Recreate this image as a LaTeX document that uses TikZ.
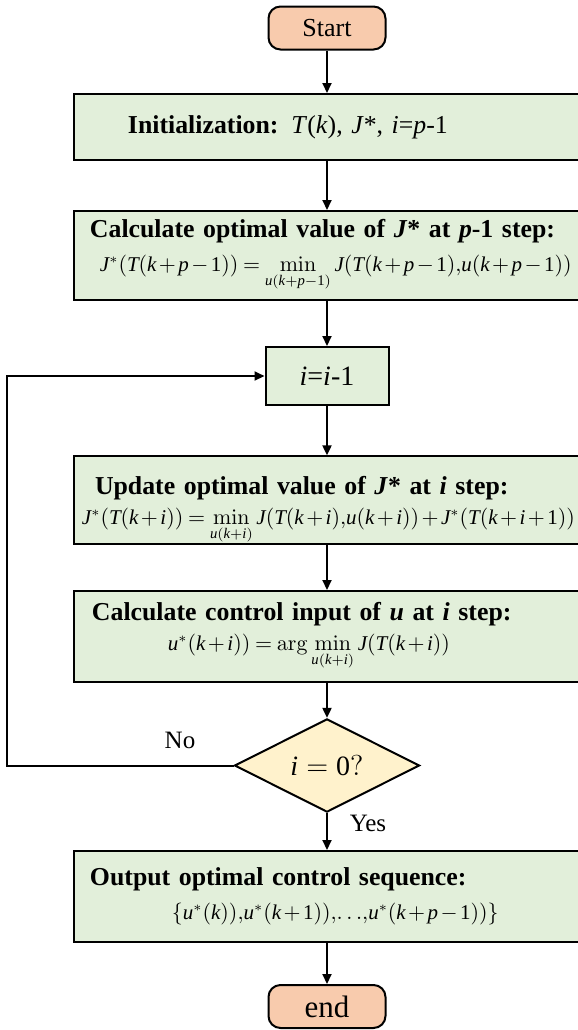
\documentclass[tikz,border=0pt]{standalone}
\usepackage{mathspec}
\setmainfont{Liberation Serif}
\setmathsfont(Digits,Latin){Liberation Serif}
\usetikzlibrary{shapes.geometric,arrows.meta}

\definecolor{termfill}{RGB}{248,203,173}
\definecolor{boxfill}{RGB}{226,239,218}
\definecolor{checkfill}{RGB}{255,242,204}

\newcommand{\headfont}{\fontsize{12.9}{15}\selectfont}
\newcommand{\eqfont}{\fontsize{10.5}{15}\selectfont\medmuskip=2mu\thickmuskip=4mu}

\tikzset{
  terminal/.style={draw, line width=1pt, rounded corners=6pt, fill=termfill,
    minimum width=58.5pt, minimum height=21.5pt, inner sep=0pt},
  stepbox/.style={draw, line width=1pt, fill=boxfill, text width=265pt,
    inner xsep=4pt, inner ysep=0pt, align=left, minimum height=#1},
  flow/.style={line width=1pt, -{Triangle[length=5pt,width=4.5pt]}},
}

\begin{document}
\begin{tikzpicture}[x=0.5pt, y=-0.5pt]
  \useasboundingbox (0,0) rectangle (578,1030);

  \node[terminal, font=\fontsize{13}{15}\selectfont] (start) at (327,28) {Start};

  % boxes run past the right edge, as in the figure
  \node[stepbox=33pt, font=\headfont] (init) at (347,127)
    {\hspace*{23pt}\textbf{Initialization:} \textit{T}(\textit{k}), \textit{J}*, \textit{i}=\textit{p}-1};

  \node[stepbox=44.5pt, font=\headfont] (calc) at (347,255.5)
    {\hspace*{4pt}\textbf{Calculate optimal value of \textit{J}* at \textit{p}-1 step:}\\[2pt]
     \hspace*{9pt}{\eqfont $J^*(T(k+p-1))=\min\limits_{u(k+p-1)}J(T(k+p-1){,}u(k+p-1))$}};

  \node[draw, line width=1pt, fill=boxfill, minimum width=61.5pt, minimum height=29pt,
    font=\fontsize{14}{16}\selectfont] (dec) at (327,376)
    {\textit{i}=\textit{i}-1};

  \node[stepbox=43pt, font=\headfont] (update) at (347,500)
    {\rule{0pt}{19pt}\hspace*{6.5pt}\textbf{Update optimal value of \textit{J}* at \textit{i} step:}\\
     {\eqfont $J^*(T(k+i))=\min\limits_{u(k+i)}J(T(k+i){,}u(k+i))+J^*(T(k+i+1))$}};

  \node[stepbox=45.5pt, font=\headfont] (control) at (347,636.5)
    {\hspace*{5pt}\textbf{Calculate control input of \textit{u} at \textit{i} step:}\\
     \hspace*{43pt}{\eqfont $u^*(k+i))=\arg\min\limits_{u(k+i)}J(T(k+i))$}};

  \node[diamond, draw, line width=1pt, fill=checkfill, minimum width=92.5pt,
    minimum height=34.5pt, inner sep=0pt, font=\fontsize{14}{16}\selectfont]
    (check) at (327,765.5) {$i=0?$};

  \node[stepbox=45.5pt, font=\headfont] (output) at (347,896.5)
    {\hspace*{4pt}\textbf{Output optimal control sequence:}\\[2pt]
     \hspace*{45pt}{\eqfont $\left\{u^*(k)){,}u^*(k+1)){,}{\ldots}{,}u^*(k+p-1))\right\}$}};

  \node[terminal, font=\fontsize{15.5}{17}\selectfont] (end) at (327,1006.5) {end};

  % main line
  \draw[flow] (start) -- (start |- init.north);
  \draw[flow] (start |- init.south) -- (start |- calc.north);
  \draw[flow] (start |- calc.south) -- (dec);
  \draw[flow] (dec) -- (dec |- update.north);
  \draw[flow] (dec |- update.south) -- (dec |- control.north);
  \draw[flow] (dec |- control.south) -- (check);
  \draw[flow] (check) -- (check |- output.north);
  \draw[flow] (check |- output.south) -- (end);

  % back to i=i-1
  \coordinate (loopx) at (7,0);
  \draw[flow] (check.west) -- (check.west -| loopx) |- (dec.west);

  \node[font=\fontsize{12.5}{14}\selectfont] (nolabel) at (180,740) {No};
  \node[font=\fontsize{12.5}{14}\selectfont] (yeslabel) at (368,823) {Yes};
\end{tikzpicture}
\end{document}
